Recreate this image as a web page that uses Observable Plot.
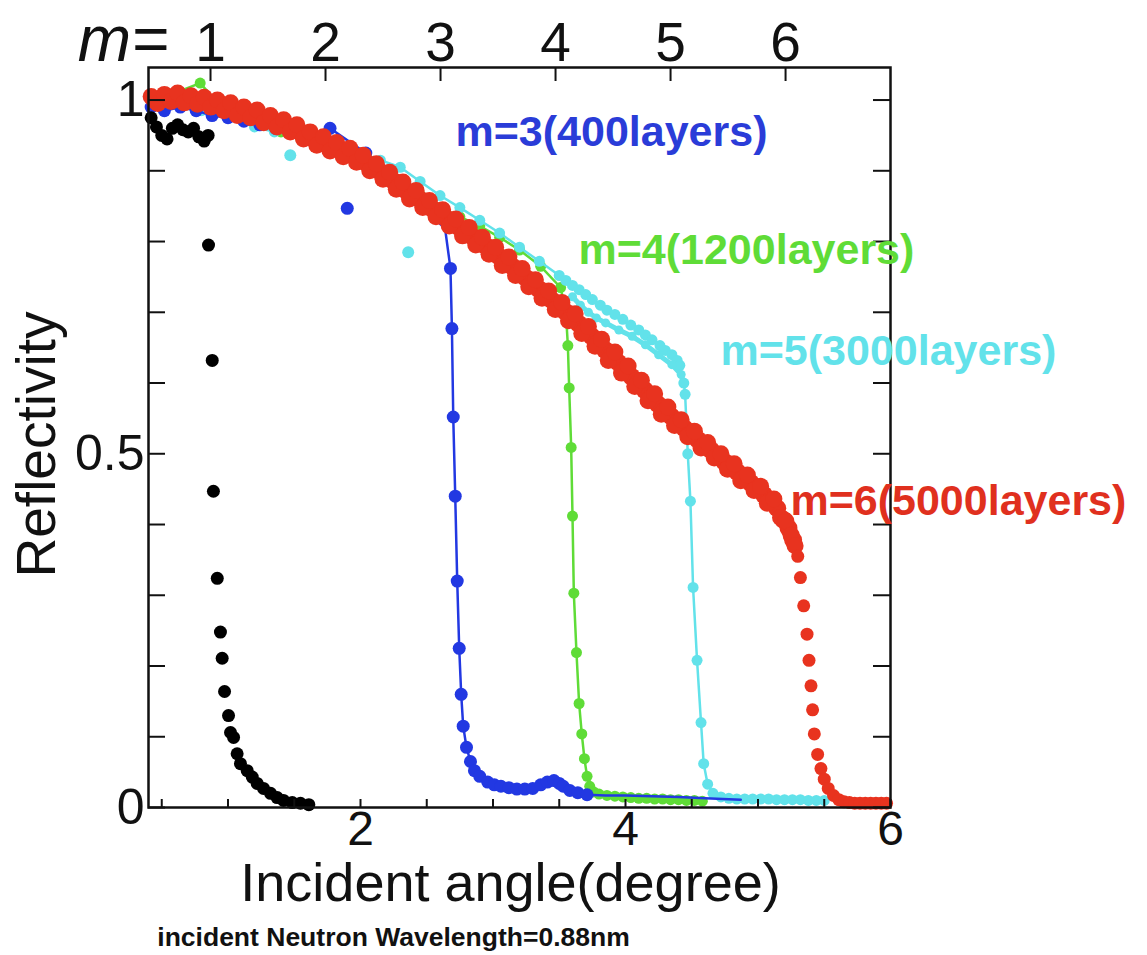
<!DOCTYPE html>
<html>
<head>
<meta charset="utf-8">
<script src="https://cdn.jsdelivr.net/npm/d3@7"></script>
<script src="https://cdn.jsdelivr.net/npm/@observablehq/plot@0.6"></script>
<style>
  body { margin: 0; background: #fff; }
  #chart svg { display: block; }
</style>
</head>
<body>
<div id="chart"></div>
<script>
// ---------- data: [incident angle (deg), reflectivity] ----------
const blackPts = [
  [0.42,0.975],[0.46,0.962],[0.50,0.950],[0.54,0.945],[0.58,0.960],[0.62,0.965],[0.66,0.958],
  [0.70,0.955],[0.74,0.960],[0.78,0.948],[0.82,0.942],[0.85,0.950],
  [0.853,0.795],[0.881,0.632],[0.890,0.447],[0.919,0.324],[0.943,0.248],[0.956,0.211],
  [0.974,0.164],[1.004,0.130],[1.019,0.106],[1.042,0.099],[1.069,0.076],[1.094,0.062],
  [1.145,0.052],[1.183,0.043],[1.220,0.034],[1.268,0.027],[1.321,0.020],[1.371,0.014],
  [1.419,0.010],[1.485,0.007],[1.547,0.006],[1.610,0.004]
];

const bluePts = [
  [0.42,0.990],[0.52,0.985],[0.64,0.990],[0.76,0.985],[0.88,0.978],[1.00,0.975],[1.12,0.970],
  [1.24,0.965],[1.36,0.960],[1.48,0.955],[1.60,0.948],[1.77,0.960],[2.04,0.925],[2.17,0.900],
  [2.30,0.880],[2.42,0.865],[2.54,0.848],[2.63,0.830],[2.679,0.762],[2.69,0.677],[2.70,0.552],
  [2.715,0.440],[2.73,0.320],[2.745,0.225],[2.76,0.160],[2.775,0.115],[2.80,0.085],[2.83,0.065],
  [2.86,0.052],[2.90,0.044],[2.96,0.036],[3.01,0.032],[3.06,0.030],[3.12,0.028],[3.18,0.026],
  [3.24,0.026],[3.30,0.027],[3.36,0.032],[3.41,0.036],[3.46,0.038],[3.50,0.034],[3.53,0.030],
  [3.58,0.024],[3.64,0.021],[3.71,0.018],[3.85,0.017],[4.00,0.017],[4.20,0.016],[4.40,0.015],
  [4.60,0.013],[4.87,0.011]
];
const blueOutliers = [[1.90,0.847]];

const greenPts = [
  [0.42,1.000],[0.60,1.010],[0.79,1.024],[0.95,0.990],[1.10,0.980],[1.25,0.965],[1.40,0.955],
  [1.55,0.945],[1.70,0.935],[1.85,0.925],[2.00,0.915],[2.15,0.900],[2.30,0.885],[2.45,0.866],
  [2.60,0.848],[2.75,0.835],[2.90,0.822],[3.05,0.806],[3.20,0.788],[3.36,0.765],[3.51,0.735],
  [3.55,0.700],[3.565,0.653],[3.575,0.593],[3.59,0.509],[3.60,0.412],[3.61,0.303],[3.63,0.219],
  [3.65,0.147],[3.67,0.104],[3.69,0.069],[3.71,0.044],[3.73,0.030],[3.76,0.022],[3.80,0.019],
  [3.86,0.017],[3.92,0.016],[3.98,0.015],[4.04,0.014],[4.10,0.013],[4.16,0.013],[4.22,0.012],
  [4.28,0.012],[4.34,0.011],[4.40,0.011],[4.46,0.010],[4.52,0.010],[4.58,0.009]
];

const cyanPts = [
  [0.42,1.000],[0.60,0.995],[0.80,0.985],[1.00,0.975],[1.20,0.962],[1.35,0.955],[1.60,0.948],
  [1.80,0.938],[2.00,0.925],[2.15,0.915],[2.30,0.905],[2.45,0.885],[2.60,0.865],[2.75,0.848],
  [2.90,0.830],[3.05,0.812],[3.20,0.792],[3.35,0.772],[3.50,0.752],[3.55,0.745],[3.60,0.738],
  [3.65,0.732],[3.70,0.725],[3.75,0.718],[3.81,0.710],[3.86,0.703],[3.92,0.697],[3.98,0.690],
  [4.04,0.682],[4.10,0.675],[4.15,0.668],[4.20,0.661],[4.26,0.653],[4.30,0.646],[4.35,0.640],
  [4.39,0.632],[4.41,0.625],[4.44,0.600],[4.45,0.584],[4.47,0.500],[4.49,0.433],[4.51,0.311],
  [4.54,0.208],[4.57,0.120],[4.59,0.062],[4.62,0.033],[4.66,0.020],[4.72,0.015],[4.78,0.013],
  [4.84,0.012],[4.90,0.012],[4.96,0.012],[5.02,0.012],[5.08,0.012],[5.14,0.011],[5.20,0.011],
  [5.26,0.011],[5.32,0.011],[5.38,0.010],[5.44,0.010],[5.50,0.010]
];
const cyanLoop = [
  [3.60,0.722],[3.66,0.710],[3.72,0.700],[3.78,0.692],[3.85,0.685],[3.95,0.675],[4.05,0.666],
  [4.15,0.654],[4.25,0.640],[4.35,0.626],[4.42,0.612],[4.44,0.600]
];
const cyanOutliers = [[1.47,0.922],[2.36,0.785]];

// red (m=6): outer scatter of the thick band, then the fall-off
const redPts = [
  [0.42,1.005],[0.47,0.995],[0.52,1.008],[0.57,0.998],[0.62,1.010],[0.67,0.996],[0.72,1.006],
  [0.77,0.994],[0.82,1.004],[0.87,0.990],[0.92,1.000],[0.97,0.985],[1.02,0.996],[1.07,0.978],
  [1.12,0.990],[1.17,0.975],[1.22,0.986],[1.27,0.968],[1.32,0.978],[1.37,0.962],[1.42,0.972],
  [1.47,0.955],[1.52,0.965],[1.57,0.945],[1.62,0.955],[1.67,0.936],[1.72,0.948],[1.77,0.928],
  [1.82,0.940],[1.87,0.920],[1.92,0.932],[1.97,0.912],[2.02,0.922],[2.07,0.900],[2.12,0.910],
  [2.17,0.888],[2.22,0.898],[2.27,0.874],[2.32,0.884],[2.37,0.860],[2.42,0.872],[2.47,0.848],
  [2.52,0.858],[2.57,0.835],[2.62,0.845],[2.67,0.822],[2.72,0.832],[2.77,0.808],[2.82,0.820],
  [2.87,0.795],[2.92,0.806],[2.97,0.782],[3.02,0.792],[3.07,0.766],[3.12,0.778],[3.17,0.752],
  [3.22,0.762],[3.27,0.736],[3.32,0.746],[3.37,0.720],[3.42,0.730],[3.47,0.704],[3.52,0.714],
  [3.57,0.688],[3.62,0.698],[3.67,0.670],[3.72,0.680],[3.77,0.652],[3.82,0.662],[3.87,0.632],
  [3.92,0.644],[3.97,0.614],[4.02,0.624],[4.07,0.595],[4.12,0.604],[4.17,0.575],[4.22,0.585],
  [4.27,0.556],[4.32,0.566],[4.37,0.540],[4.42,0.548],[4.47,0.524],[4.52,0.532],[4.57,0.508],
  [4.62,0.516],[4.67,0.494],[4.72,0.500],[4.77,0.478],[4.82,0.486],[4.87,0.462],[4.92,0.470],
  [4.97,0.448],[5.02,0.454],[5.07,0.430],[5.12,0.436],[5.17,0.410],[5.21,0.405],[5.25,0.385],
  [5.28,0.370],[5.30,0.355],[5.32,0.325],[5.345,0.285],[5.37,0.245],[5.385,0.208],[5.40,0.172],
  [5.412,0.138],[5.425,0.104],[5.45,0.075],[5.475,0.055],[5.50,0.040],[5.53,0.027],[5.57,0.017],
  [5.61,0.011],[5.65,0.008],[5.69,0.007],[5.73,0.006],[5.77,0.006],[5.81,0.006],[5.85,0.006],
  [5.89,0.006],[5.93,0.006],[5.97,0.006]
];
// red (m=6): points along the middle of the band
const redMid = [
  [0.445,1.000],[0.495,1.001],[0.545,1.003],[0.595,1.004],[0.645,1.003],[0.695,1.001],[0.745,1.000],
  [0.795,0.999],[0.845,0.997],[0.895,0.995],[0.945,0.992],[0.995,0.990],[1.045,0.987],[1.095,0.984],
  [1.145,0.982],[1.195,0.980],[1.245,0.977],[1.295,0.973],[1.345,0.970],[1.395,0.967],[1.445,0.963],
  [1.495,0.960],[1.545,0.955],[1.595,0.950],[1.645,0.945],[1.695,0.942],[1.745,0.938],[1.795,0.934],
  [1.845,0.930],[1.895,0.926],[1.945,0.922],[1.995,0.917],[2.045,0.911],[2.095,0.905],[2.145,0.899],
  [2.195,0.893],[2.245,0.886],[2.295,0.879],[2.345,0.872],[2.395,0.866],[2.445,0.860],[2.495,0.853],
  [2.545,0.846],[2.595,0.840],[2.645,0.833],[2.695,0.827],[2.745,0.820],[2.795,0.814],[2.845,0.807],
  [2.895,0.800],[2.945,0.794],[2.995,0.787],[3.045,0.779],[3.095,0.772],[3.145,0.765],[3.195,0.757],
  [3.245,0.749],[3.295,0.741],[3.345,0.733],[3.395,0.725],[3.445,0.717],[3.495,0.709],[3.545,0.701],
  [3.595,0.693],[3.645,0.684],[3.695,0.675],[3.745,0.666],[3.795,0.657],[3.845,0.647],[3.895,0.638],
  [3.945,0.629],[3.995,0.619],[4.045,0.609],[4.095,0.600],[4.145,0.590],[4.195,0.580],[4.245,0.570],
  [4.295,0.561],[4.345,0.553],[4.395,0.544],[4.445,0.536],[4.495,0.528],[4.545,0.520],[4.595,0.512],
  [4.645,0.505],[4.695,0.497],[4.745,0.489],[4.795,0.482],[4.845,0.474],[4.895,0.466],[4.945,0.459],
  [4.995,0.451],[5.045,0.442],[5.095,0.433],[5.145,0.423],[5.190,0.407],[5.230,0.395],[5.265,0.378]
];

// ---------- ticks & labels ----------
const xTicks = [0.5,1,1.5,2,2.5,3,3.5,4,4.5,5,5.5,6];
const xTickLabels = [2,4,6];
const yTicks = [0,0.1,0.2,0.3,0.4,0.5,0.6,0.7,0.8,0.9,1];
const yTickLabels = [0,0.5,1];
const mTickAngles = [0.868,1.736,2.604,3.472,4.340,5.208];
const mLabels = ["1","2","3","4","5","6"];
const seriesLabels = ["m=3(400layers)","m=4(1200layers)","m=5(3000layers)","m=6(5000layers)"];

const C = {blue:"#2238e2", green:"#5fdc37", cyan:"#62e2ea", red:"#e8331f", black:"#000"};
const rows = pts => pts.map(([x,y]) => ({x, y}));

const chart = Plot.plot({
  width: 1147,
  height: 955,
  marginLeft: 148,
  marginRight: 257,
  marginTop: 67,
  marginBottom: 148,
  x: {domain: [0.4, 6], label: null},
  y: {domain: [0, 1.046], label: null},
  style: {fontFamily: '"Liberation Sans", Arial, sans-serif', color: "#111", background: "#fff"},
  marks: [
    // series
    Plot.line(rows(greenPts), {x: "x", y: "y", stroke: C.green, strokeWidth: 2.5}),
    Plot.dot(rows(greenPts), {x: "x", y: "y", r: 5.5, fill: C.green}),
    Plot.line(rows(cyanPts), {x: "x", y: "y", stroke: C.cyan, strokeWidth: 2.5}),
    Plot.line(rows(cyanLoop), {x: "x", y: "y", stroke: C.cyan, strokeWidth: 5}),
    Plot.dot(rows(cyanPts), {x: "x", y: "y", r: 5.5, fill: C.cyan}),
    Plot.dot(rows(cyanLoop), {x: "x", y: "y", r: 4.5, fill: C.cyan}),
    Plot.dot(rows(cyanOutliers), {x: "x", y: "y", r: 6, fill: C.cyan}),
    Plot.line(rows(bluePts), {x: "x", y: "y", stroke: C.blue, strokeWidth: 2.5}),
    Plot.dot(rows(bluePts).filter(d => d.x <= 3.72), {x: "x", y: "y", r: 6.5, fill: C.blue}),
    Plot.dot(rows(blueOutliers), {x: "x", y: "y", r: 6.5, fill: C.blue}),
    Plot.dot(rows(blackPts), {x: "x", y: "y", r: 6.5, fill: C.black}),
    Plot.dot(rows(redMid), {x: "x", y: "y", r: 9, fill: C.red}),
    Plot.dot(rows(redPts).filter(d => d.x < 5.29), {x: "x", y: "y", r: 8.5, fill: C.red}),
    Plot.dot(rows(redPts).filter(d => d.x >= 5.29), {x: "x", y: "y", r: 6.5, fill: C.red}),

    // frame and inward ticks
    Plot.frame({stroke: "#111", strokeWidth: 2.5}),
    Plot.axisY(yTicks, {anchor: "left", tickSize: -17, strokeWidth: 2, tickFormat: () => "", label: null}),
    Plot.axisY(yTicks, {anchor: "right", tickSize: -18, strokeWidth: 2, tickFormat: () => "", label: null}),
    Plot.axisX(xTicks, {anchor: "bottom", tickSize: -8, strokeWidth: 2, tickFormat: () => "", label: null}),
    Plot.axisX(mTickAngles, {anchor: "top", tickSize: -13, strokeWidth: 2, tickFormat: () => "", label: null}),

    // tick labels
    Plot.axisY(yTickLabels, {anchor: "left", tickSize: 0, tickPadding: 4, fontSize: 50, label: null,
      tickFormat: d => String(d)}),
    Plot.axisX(xTickLabels, {anchor: "bottom", tickSize: 0, tickPadding: 3, fontSize: 48, label: null,
      tickFormat: d => String(d)}),
    Plot.axisX(mTickAngles, {anchor: "top", tickSize: 0, tickPadding: 7, fontSize: 55, label: null,
      tickFormat: d => mLabels[mTickAngles.indexOf(d)]}),
    Plot.text(["m="], {frameAnchor: "top-left", textAnchor: "end", lineAnchor: "bottom",
      dx: 20, dy: -7, fontSize: 64, fontStyle: "italic", fill: "#111"}),

    // axis titles and caption
    Plot.text(["Reflectivity"], {frameAnchor: "left", textAnchor: "middle", rotate: -90, dx: -111, dy: 7,
      fontSize: 55, fill: "#111"}),
    Plot.text(["Incident angle(degree)"], {frameAnchor: "bottom", textAnchor: "middle", lineAnchor: "bottom",
      dx: -9, dy: 93, fontSize: 54, fill: "#111"}),
    Plot.text(["incident Neutron Wavelength=0.88nm"], {frameAnchor: "bottom", textAnchor: "middle", lineAnchor: "bottom",
      dx: -126, dy: 138, fontSize: 26.5, fontWeight: "bold", fill: "#111"}),

    // series annotations
    Plot.text([seriesLabels[0]], {x: 2.717, y: 0.955, textAnchor: "start", fontSize: 43, fontWeight: "bold", fill: "#2a3cd8"}),
    Plot.text([seriesLabels[1]], {x: 3.645, y: 0.787, textAnchor: "start", fontSize: 43, fontWeight: "bold", fill: C.green}),
    Plot.text([seriesLabels[2]], {x: 4.717, y: 0.645, textAnchor: "start", fontSize: 43, fontWeight: "bold", fill: C.cyan}),
    Plot.text([seriesLabels[3]], {x: 5.245, y: 0.433, textAnchor: "start", fontSize: 43, fontWeight: "bold", fill: "#e0301e"})
  ]
});
document.getElementById("chart").append(chart);
</script>
</body>
</html>
